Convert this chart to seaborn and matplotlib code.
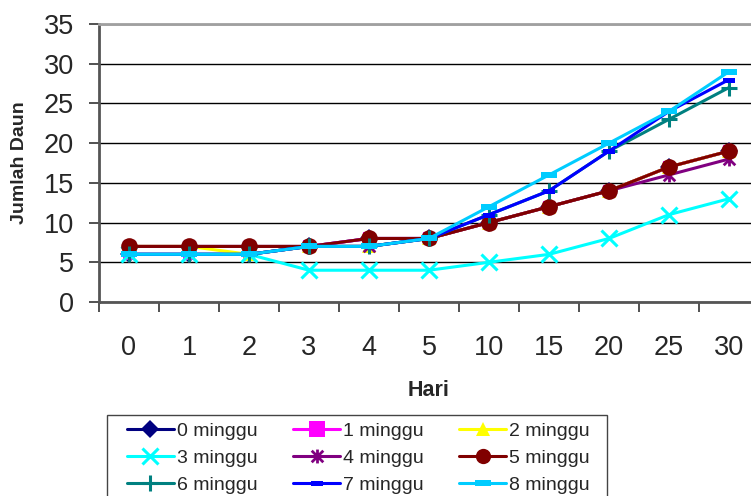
import matplotlib
matplotlib.use("Agg")
import matplotlib.pyplot as plt
from matplotlib.patches import Rectangle
from matplotlib.path import Path
from matplotlib.ticker import FixedLocator
import seaborn as sns

hari = ["0", "1", "2", "3", "4", "5", "10", "15", "20", "25", "30"]
seri = ["0 minggu", "1 minggu", "2 minggu", "3 minggu", "4 minggu",
        "5 minggu", "6 minggu", "7 minggu", "8 minggu"]

m0 = [6, 6, 6, 7, 8, 8, 10, 12, 14, 17, 19]
m1 = [6, 6, 6, 7, 8, 8, 10, 12, 14, 17, 19]
m2 = [7, 7, 6, 7, 7, 8, 10, 12, 14, 17, 19]
m3 = [6, 6, 6, 4, 4, 4, 5, 6, 8, 11, 13]
m4 = [7, 7, 7, 7, 7, 8, 10, 12, 14, 16, 18]
m5 = [7, 7, 7, 7, 8, 8, 10, 12, 14, 17, 19]
m6 = [6, 6, 6, 7, 7, 8, 11, 14, 19, 23, 27]
m7 = [6, 6, 6, 7, 7, 8, 11, 14, 19, 24, 28]
m8 = [6, 6, 6, 7, 7, 8, 12, 16, 20, 24, 29]
nilai = [m0, m1, m2, m3, m4, m5, m6, m7, m8]

warna = ["#000080", "#FF00FF", "#FFFF00", "#00FFFF", "#800080",
         "#800000", "#008080", "#0000FF", "#00CCFF"]
bar = [(-1, -0.4), (1, -0.4), (1, 0.4), (-1, 0.4)]
bintang = Path([(-1, -1), (1, 1), (-1, 1), (1, -1), (0, -1.2), (0, 1.2)],
               [Path.MOVETO, Path.LINETO, Path.MOVETO, Path.LINETO,
                Path.MOVETO, Path.LINETO])
penanda = ["D", "s", "^", "x", bintang, "o", "+", bar, bar]
ukuran = [9, 9, 10, 11, 10, 12, 12, 9, 11]
tebal = [0, 0, 0, 2.2, 2, 0, 2.2, 0, 0]

sns.set_style("white")
plt.rcParams["font.family"] = ["Liberation Sans", "DejaVu Sans"]

fig = plt.figure(figsize=(7.51, 4.96), dpi=100)
ax = fig.add_axes([99 / 751, 194 / 496, 660 / 751, 278 / 496])

for nama, y, c, mk, ms, mw in zip(seri, nilai, warna, penanda, ukuran, tebal):
    sns.lineplot(x=hari, y=y, ax=ax, color=c, marker=mk, markersize=ms,
                 markeredgecolor=c, markerfacecolor=c, markeredgewidth=mw,
                 linewidth=2.2, label=nama, legend=False)

ax.set_xlim(-0.5, 10.5)
ax.set_ylim(0, 35)
ax.set_yticks(range(0, 36, 5))
ax.yaxis.grid(True, color="black", linewidth=1)
ax.xaxis.grid(False)

ax.set_xticks(range(len(hari)))
ax.set_xticklabels(hari)
ax.xaxis.set_minor_locator(FixedLocator([i - 0.5 for i in range(len(hari) + 1)]))
ax.tick_params(axis="x", which="major", length=0, pad=24, labelsize=19.5)
ax.tick_params(axis="x", which="minor", length=7, width=1.2, color="#333333",
               direction="out", bottom=True)
ax.tick_params(axis="y", length=7, width=1.2, color="#333333", direction="out",
               left=True, pad=11, labelsize=19.5)

for s in ["left", "bottom"]:
    ax.spines[s].set_color("#555555")
    ax.spines[s].set_linewidth(2)
ax.spines["top"].set_color("#a0a0a0")
ax.spines["top"].set_linewidth(2)
ax.spines["right"].set_visible(False)

ax.set_xlabel("Hari", fontsize=15.5, fontweight="bold")
ax.set_ylabel("Jumlah Daun", fontsize=14, fontweight="bold")
ax.xaxis.set_label_coords(0.5, -0.28)
ax.yaxis.set_label_coords(-0.107, 0.5)

h, l = ax.get_legend_handles_labels()
urut = [0, 3, 6, 1, 4, 7, 2, 5, 8]
leg = fig.legend([h[i] for i in urut], [l[i] for i in urut], ncol=3,
                 loc="upper left", bbox_to_anchor=(127 / 751, 1 - 422 / 496),
                 frameon=False, fontsize=14, handlelength=2.4, handletextpad=0.15,
                 columnspacing=1.85, labelspacing=0.5, borderpad=0, borderaxespad=0)
for lh in leg.legend_handles:
    if lh.get_marker() in ("s", "o"):
        lh.set_markersize(11)
fig.patches.append(Rectangle((107 / 751, -0.05), 500 / 751, 1 - 415 / 496 + 0.05,
                             transform=fig.transFigure, fill=False,
                             edgecolor="#444444", linewidth=1))

fig.savefig("out.png", dpi=100)
